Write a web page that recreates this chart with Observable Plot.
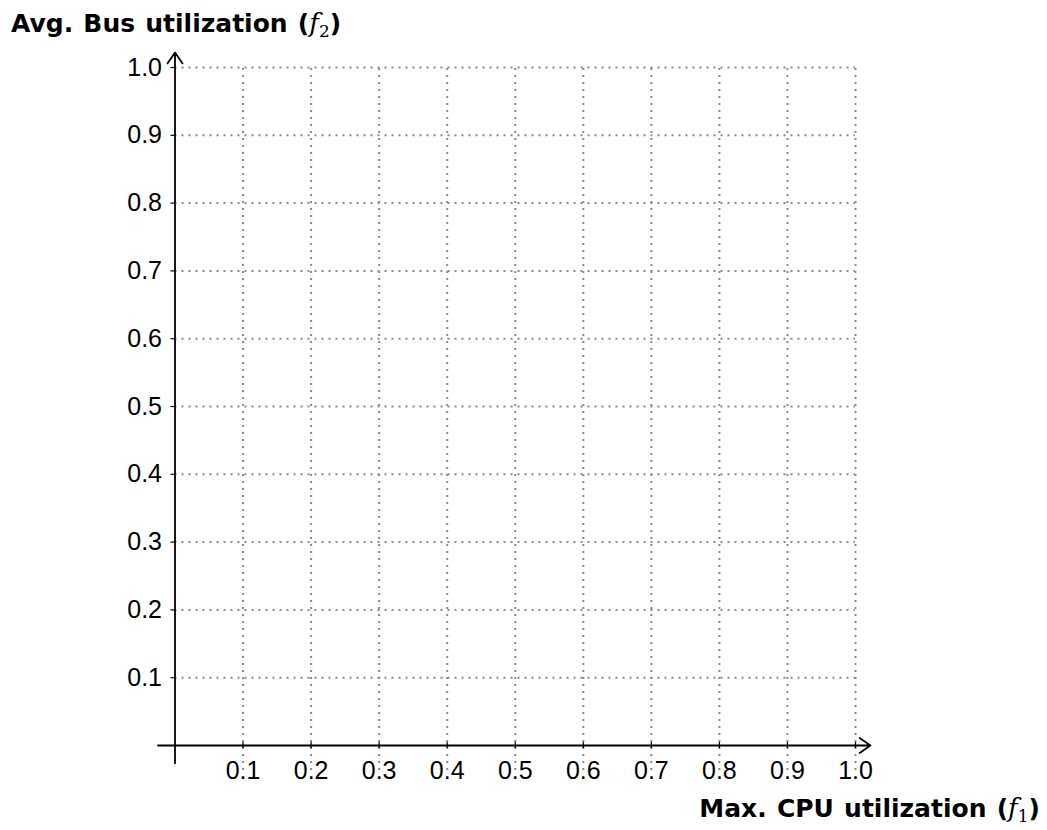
<!DOCTYPE html>
<html><head><meta charset="utf-8">
<script src="https://cdn.jsdelivr.net/npm/d3@7"></script>
<script src="https://cdn.jsdelivr.net/npm/@observablehq/plot@0.6"></script>
<style>body{margin:0;background:#fff}</style>
</head><body><div id="chart"></div>
<script>
// Tick values and labels
const xTicks = [0.1, 0.2, 0.3, 0.4, 0.5, 0.6, 0.7, 0.8, 0.9, 1.0];
const yTicks = [0.1, 0.2, 0.3, 0.4, 0.5, 0.6, 0.7, 0.8, 0.9, 1.0];
const xTickLabels = ["0.1","0.2","0.3","0.4","0.5","0.6","0.7","0.8","0.9","1.0"];
const yTickLabels = ["0.1","0.2","0.3","0.4","0.5","0.6","0.7","0.8","0.9","1.0"];
const xTitle = {text: "Max. CPU utilization (", sym: "f", sub: "1", end: ")"};
const yTitle = {text: "Avg. Bus utilization (", sym: "f", sub: "2", end: ")"};
// Axis extents (data units)
const xAxisLine = [{x1: -0.025, x2: 1.022, y: 0}];
const yAxisLine = [{y1: -0.026, y2: 1.022, x: 0}];

const gridStyle = {stroke: "#8a8a8a", strokeWidth: 2, strokeDasharray: "2,5"};
const font = "'Liberation Sans', Arial, sans-serif";
const titleFont = "'DejaVu Sans', sans-serif";

const plot = Plot.plot({
  width: 1047,
  height: 830,
  marginLeft: 174.5,
  marginRight: 192,
  marginTop: 67,
  marginBottom: 85,
  style: {fontFamily: font, background: "#fff"},
  x: {domain: [0, 1], axis: null},
  y: {domain: [0, 1], axis: null},
  marks: [
    // grid
    Plot.ruleX(xTicks, {x: d => d, y1: -0.037, y2: 1, ...gridStyle}),
    Plot.ruleY(yTicks, {y: d => d, x1: 0, x2: 1, ...gridStyle}),
    // axes with arrowheads
    Plot.arrow(xAxisLine, {x1: "x1", x2: "x2", y1: "y", y2: "y", stroke: "#000", strokeWidth: 1.8, headLength: 11, headAngle: 70}),
    Plot.arrow(yAxisLine, {y1: "y1", y2: "y2", x1: "x", x2: "x", stroke: "#000", strokeWidth: 1.8, headLength: 11, headAngle: 70}),
    // tick marks
    Plot.ruleX(xTicks, {x: d => d, y1: 0, y2: 0, insetTop: -3, insetBottom: -3, stroke: "#000", strokeWidth: 1.2}),
    Plot.ruleY(yTicks, {y: d => d, x1: 0, x2: 0, insetLeft: -4, insetRight: 0, stroke: "#000", strokeWidth: 1.2}),
    // tick labels
    Plot.text(xTicks, {x: d => d, y: 0, dy: 25, text: (d, i) => xTickLabels[i], fontSize: 25, fill: "#000"}),
    Plot.text(yTicks, {x: 0, y: d => d, dx: -13, text: (d, i) => yTickLabels[i], fontSize: 25, textAnchor: "end", fill: "#000"})
  ]
});

document.getElementById("chart").appendChild(plot);

// Axis titles with math symbols (italic f with subscript)
function addTitle(svg, t, x, y, anchor) {
  const el = d3.select(svg).append("text")
    .attr("x", x).attr("y", y)
    .attr("text-anchor", anchor)
    .attr("font-family", titleFont)
    .attr("font-weight", "bold")
    .attr("font-size", 25)
    .attr("word-spacing", 1.5)
    .attr("fill", "#000");
  el.append("tspan").text(t.text);
  el.append("tspan").attr("font-family", "'DejaVu Serif', 'Liberation Serif', serif")
    .attr("font-style", "italic").attr("font-weight", "normal").attr("font-size", 26).text(t.sym);
  el.append("tspan").attr("font-family", "'DejaVu Serif', serif")
    .attr("font-weight", "normal").attr("font-size", 17).attr("dy", 5).text(t.sub);
  el.append("tspan").attr("dy", -5).text(t.end);
}
addTitle(plot, yTitle, 11, 32, "start");
addTitle(plot, xTitle, 1040, 817, "end");
</script>
</body></html>
